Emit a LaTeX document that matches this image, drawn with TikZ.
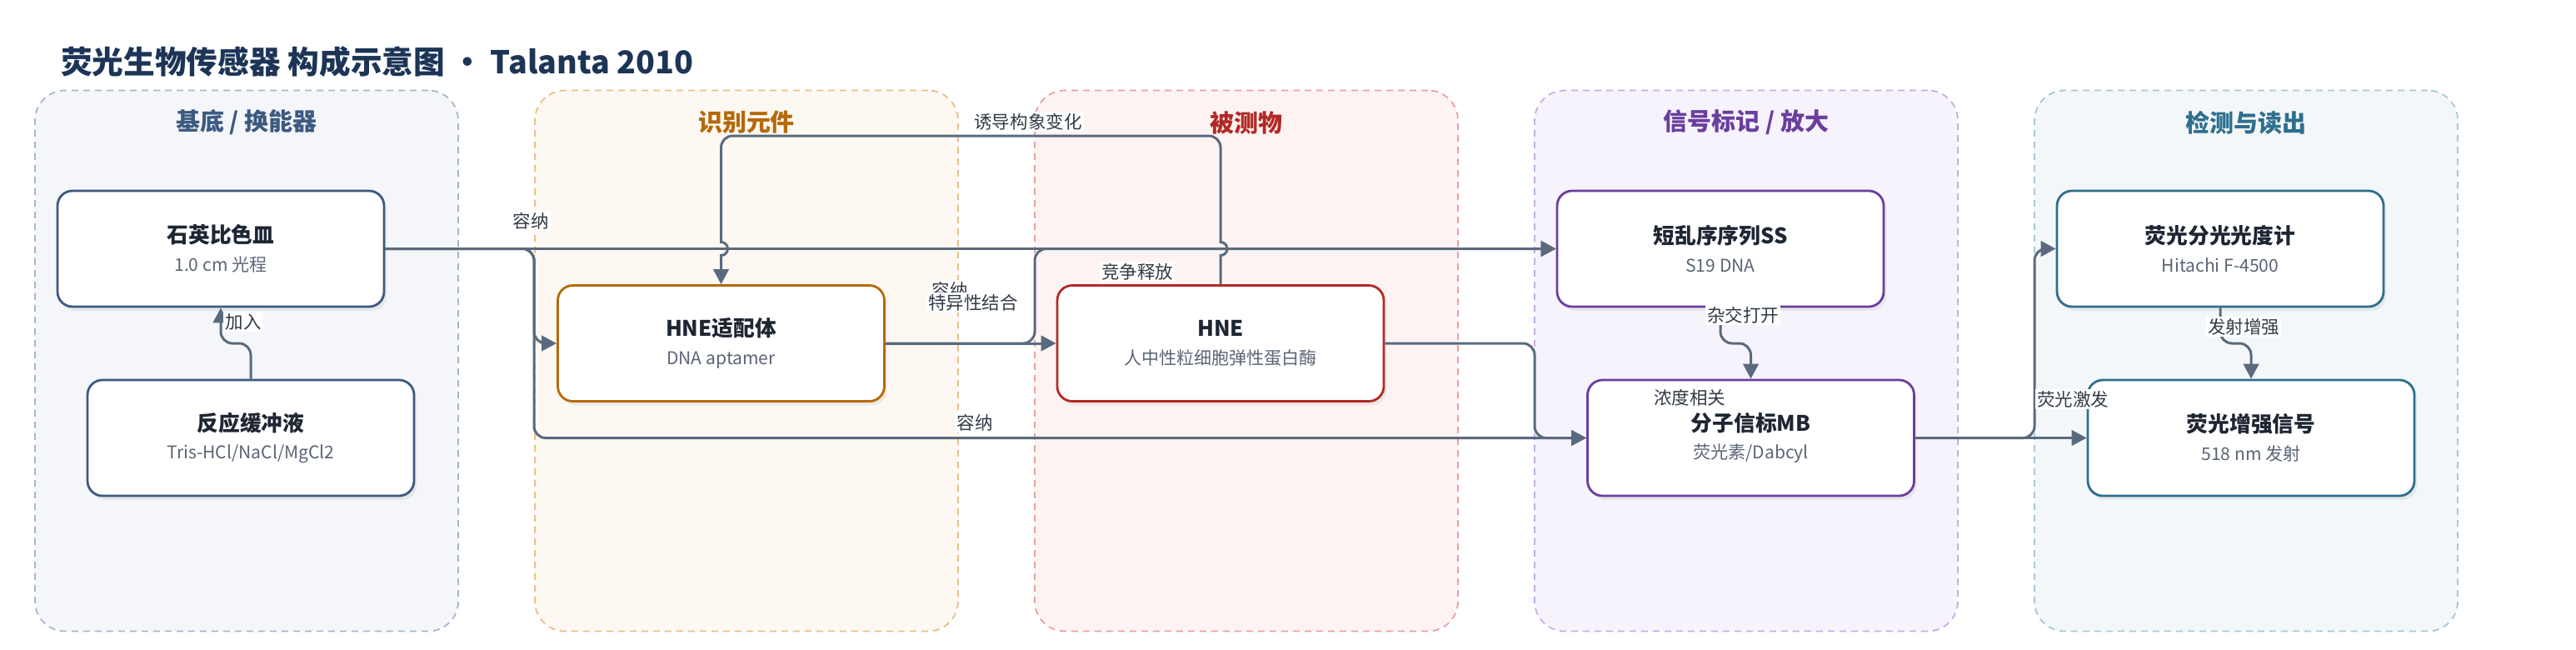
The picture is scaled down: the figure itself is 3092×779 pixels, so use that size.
\documentclass[tikz,border=0pt]{standalone}
\usepackage{fontspec}
\setmainfont{Noto Sans CJK SC}
\usetikzlibrary{arrows.meta, positioning, shadows}

\definecolor{titleC}{HTML}{1C3557}
\definecolor{lineC}{HTML}{5A6A7E}
\definecolor{headC}{HTML}{1F2633}
\definecolor{subC}{HTML}{5B6576}
\definecolor{lblC}{HTML}{333B47}
\definecolor{baseC}{HTML}{3D5A80}
\definecolor{baseFill}{HTML}{F4F6FA}
\definecolor{baseEdge}{HTML}{A9B6C8}
\definecolor{recogC}{HTML}{B5690A}
\definecolor{recogFill}{HTML}{FDF8F1}
\definecolor{recogEdge}{HTML}{E8BF88}
\definecolor{targetC}{HTML}{B22A25}
\definecolor{targetFill}{HTML}{FDF3F3}
\definecolor{targetEdge}{HTML}{E8A1A1}
\definecolor{signalC}{HTML}{6A3E9E}
\definecolor{signalFill}{HTML}{F7F3FC}
\definecolor{signalEdge}{HTML}{C6AEE2}
\definecolor{detectC}{HTML}{2E6E8E}
\definecolor{detectFill}{HTML}{F3F7F9}
\definecolor{detectEdge}{HTML}{A6C8D8}

\newcommand{\boxsub}[1]{{\fontsize{15}{18}\selectfont\color{subC}#1}}

\begin{document}
\begin{tikzpicture}[
  x=0.25mm, y=-0.25mm,
  grp/.style={
    rectangle,
    draw,
    dash pattern=on 2mm off 1.5mm,
    line width=0.45mm,
    rounded corners=9mm,
    minimum width=127mm,
    minimum height=162.25mm,
    inner sep=0pt
  },
  grpTitle/.style={font=\fontsize{20.6}{24}\selectfont\bfseries},
  box/.style={
    rectangle,
    draw,
    rounded corners=4.5mm,
    line width=0.7mm,
    fill=white,
    align=center,
    minimum width=98mm,
    minimum height=34.75mm,
    inner sep=0pt,
    text=headC,
    font=\fontsize{18.3}{24}\selectfont,
    drop shadow={shadow xshift=0.8mm, shadow yshift=-1.2mm, opacity=0.12}
  },
  arrow/.style={-{Triangle[length=4.5mm, width=4.6mm]}, line width=0.75mm, draw=lineC, rounded corners=3.5mm},
  lbl/.style={fill=white, inner sep=0.6mm, text=lblC, font=\fontsize{15.3}{18}\selectfont}
]
\useasboundingbox (0,0) rectangle (3092,779);

% Title
\node[anchor=west, inner sep=0pt, text=titleC, font=\fontsize{26.8}{30}\selectfont\bfseries] (mainTitle) at (73,74) {荧光生物传感器 构成示意图 • Talanta 2010};

% Groups (five columns)
\node[grp, draw=baseEdge, fill=baseFill] (grpBase) at (296,433) {};
\node[grp, draw=recogEdge, fill=recogFill] (grpRecog) at (896,433) {};
\node[grp, draw=targetEdge, fill=targetFill] (grpTarget) at (1496,433) {};
\node[grp, draw=signalEdge, fill=signalFill] (grpSignal) at (2096,433) {};
\node[grp, draw=detectEdge, fill=detectFill] (grpDetect) at (2696,433) {};

\node[grpTitle, text=baseC] (ttlBase) at (296,147) {基底 / 换能器};
\node[grpTitle, text=recogC] (ttlRecog) at (896,147) {识别元件};
\node[grpTitle, text=targetC] (ttlTarget) at (1496,147) {被测物};
\node[grpTitle, text=signalC] (ttlSignal) at (2096,147) {信号标记 / 放大};
\node[grpTitle, text=detectC] (ttlDetect) at (2696,147) {检测与读出};

% Nodes
\node[box, draw=baseC] (cuvette) at (265,298.5) {\textbf{石英比色皿}\\\boxsub{1.0 cm 光程}};
\node[box, draw=baseC] (buffer) at (301,525.5) {\textbf{反应缓冲液}\\\boxsub{Tris-HCl/NaCl/MgCl2}};
\node[box, draw=recogC] (aptamer) at (865.5,412) {\textbf{HNE适配体}\\\boxsub{DNA aptamer}};
\node[box, draw=targetC] (hne) at (1465,412) {\textbf{HNE}\\\boxsub{人中性粒细胞弹性蛋白酶}};
\node[box, draw=signalC] (ss) at (2065,298.5) {\textbf{短乱序序列SS}\\\boxsub{S19 DNA}};
\node[box, draw=signalC] (mb) at (2101.5,525.5) {\textbf{分子信标MB}\\\boxsub{荧光素/Dabcyl}};
\node[box, draw=detectC] (spectro) at (2665,298.5) {\textbf{荧光分光光度计}\\\boxsub{Hitachi F-4500}};
\node[box, draw=detectC] (signal) at (2702,525.5) {\textbf{荧光增强信号}\\\boxsub{518 nm 发射}};

% Routing points
\coordinate (trunkA) at (641,0);
\coordinate (trunkB) at (1242,0);
\coordinate (trunkC) at (1842,0);
\coordinate (trunkD) at (2442,0);
\coordinate (loopTop) at (0,163);
\coordinate (jogRow) at (0,412);

% Arrows
\draw[arrow] (buffer.north) -- (buffer.north |- jogRow) -| (cuvette.south);
\draw[arrow] (cuvette.east) -| (trunkA |- aptamer.west) -- (aptamer.west);
\draw[arrow] (cuvette.east) -| (trunkA |- mb.west) -- (mb.west);
\draw[arrow] (cuvette.east) -- (ss.west);
\draw[arrow] (aptamer.east) -- (hne.west);
\draw[arrow] (aptamer.east) -| (trunkB |- ss.west) -- (ss.west);
\draw[arrow] (hne.north) [sharp corners] -- ([yshift=-2mm]hne.north |- cuvette.east)
  arc[start angle=-90, end angle=90, radius=2mm]
  [rounded corners=3.5mm] -- (hne.north |- loopTop) -- (aptamer.north |- loopTop)
  [sharp corners] -- ([yshift=2mm]aptamer.north |- cuvette.east)
  arc[start angle=90, end angle=-90, radius=2mm]
  -- (aptamer.north);
\draw[arrow] (hne.east) -| (trunkC |- mb.west) -- (mb.west);
\draw[arrow] (ss.south) -- (ss.south |- jogRow) -| (mb.north);
\draw[arrow] (mb.east) -| (trunkD |- spectro.west) -- (spectro.west);
\draw[arrow] (mb.east) -- (signal.west);
\draw[arrow] (spectro.south) -- (spectro.south |- jogRow) -| (signal.north);

% Connector labels
\node[lbl] (lblAdd) at (292,386) {加入};
\node[lbl] (lblHoldA) at (637,265) {容纳};
\node[lbl] (lblHoldB) at (1140,348) {容纳};
\node[lbl] (lblBind) at (1168,363) {特异性结合};
\node[lbl] (lblFold) at (1234,146) {诱导构象变化};
\node[lbl] (lblRelease) at (1365,326) {竞争释放};
\node[lbl] (lblHoldC) at (1170,507) {容纳};
\node[lbl] (lblHybrid) at (2092,378) {杂交打开};
\node[lbl] (lblConc) at (2028,477) {浓度相关};
\node[lbl] (lblExcite) at (2488,479) {荧光激发};
\node[lbl] (lblEmit) at (2693,392) {发射增强};

\end{tikzpicture}
\end{document}
